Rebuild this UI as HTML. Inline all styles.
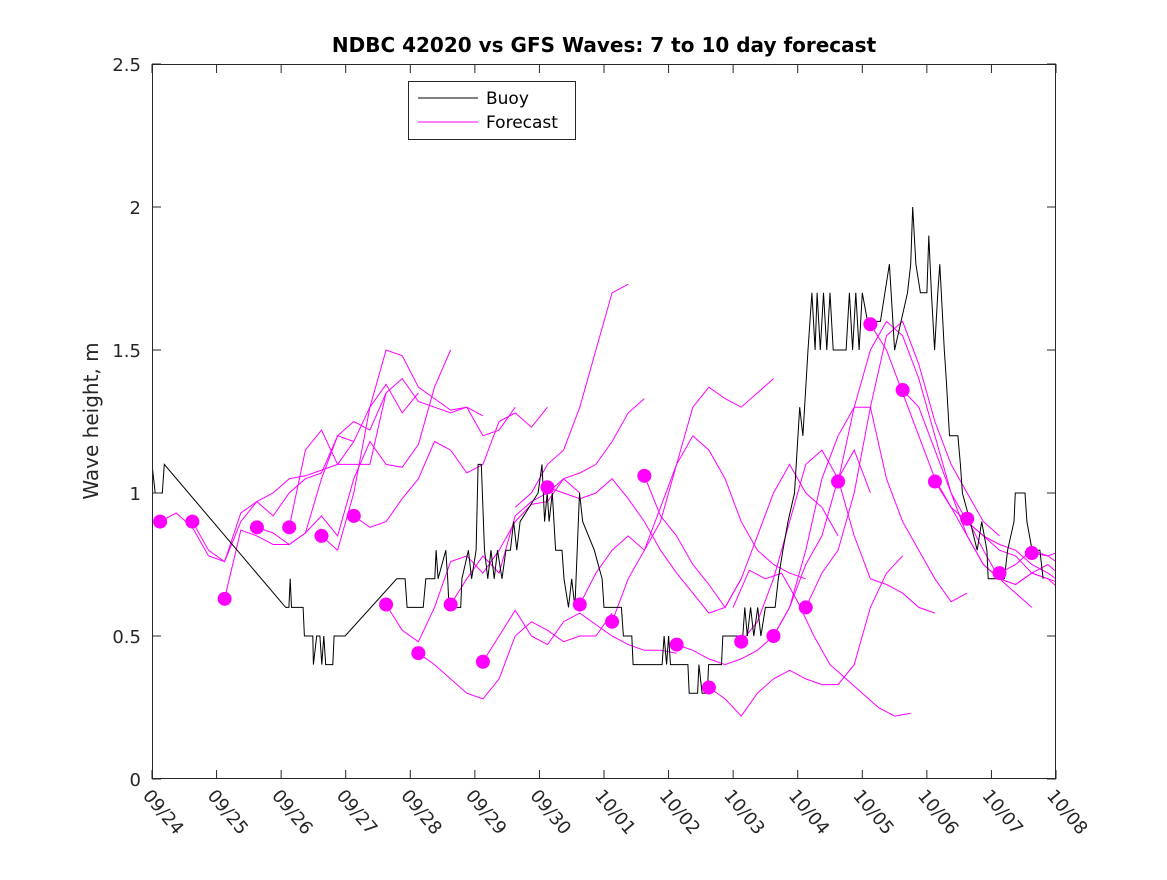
<!DOCTYPE html>
<html><head><meta charset="utf-8"><style>
body{margin:0;background:#fff;width:1167px;height:875px;overflow:hidden;font-family:"Liberation Sans","DejaVu Sans",sans-serif}
svg text{font-family:"DejaVu Sans","Liberation Sans",sans-serif}
</style></head><body>
<svg id="chart" width="1167" height="875" viewBox="0 0 1167 875" xmlns="http://www.w3.org/2000/svg">
<rect width="1167" height="875" fill="#fff"/>
<text x="604" y="52" text-anchor="middle" font-size="20" font-weight="bold" fill="#000">NDBC 42020 vs GFS Waves: 7 to 10 day forecast</text>
<text transform="translate(98,421) rotate(-90)" text-anchor="middle" font-size="20" fill="#262626">Wave height, m</text>
<g id="plot"></g>
<g id="axes"></g>
<g>
<rect x="408.5" y="81.5" width="167" height="58" fill="#fff" stroke="#262626" stroke-width="1"/>
<line x1="418" y1="98" x2="478" y2="98" stroke="#000" stroke-width="1"/>
<text x="486" y="104" font-size="17" fill="#000">Buoy</text>
<line x1="418" y1="122" x2="478" y2="122" stroke="#f0f" stroke-width="1"/>
<text x="486" y="128" font-size="17" fill="#000">Forecast</text>
</g>
</svg>
<script>
const xTickLabels=["09/24","09/25","09/26","09/27","09/28","09/29","09/30","10/01","10/02","10/03","10/04","10/05","10/06","10/07","10/08"];
const yTicks=[0,0.5,1,1.5,2,2.5];
const yTickLabels=["0","0.5","1","1.5","2","2.5"];
const buoyDays=[0,0.05,0.16,0.19,2.07,2.12,2.14,2.16,2.34,2.36,2.49,2.5,2.55,2.6,2.63,2.66,2.69,2.8,2.82,2.99,3.79,3.92,3.95,4.2,4.24,4.38,4.4,4.43,4.55,4.58,4.6,4.78,4.8,4.9,4.95,5.02,5.05,5.1,5.15,5.2,5.25,5.3,5.35,5.42,5.48,5.55,5.6,5.65,5.7,5.98,6.04,6.08,6.12,6.15,6.2,6.25,6.35,6.38,6.45,6.5,6.55,6.62,6.67,6.85,6.97,7.0,7.27,7.3,7.43,7.45,7.9,7.93,7.97,8.0,8.03,8.3,8.32,8.45,8.47,8.52,8.6,8.62,8.82,8.84,9.15,9.18,9.22,9.27,9.32,9.38,9.43,9.5,9.65,9.7,9.77,9.85,9.95,10.03,10.08,10.16,10.22,10.27,10.3,10.35,10.4,10.45,10.5,10.55,10.6,10.7,10.75,10.8,10.85,10.9,10.95,11.0,11.08,11.28,11.42,11.5,11.7,11.75,11.78,11.83,11.9,12.0,12.03,12.07,12.12,12.17,12.2,12.27,12.3,12.35,12.48,12.52,12.55,12.67,12.78,12.85,12.93,12.95,13.2,13.25,13.35,13.37,13.52,13.55,13.63,13.75,13.8];
const buoyValues=[1.1,1.0,1.0,1.1,0.6,0.6,0.7,0.6,0.6,0.5,0.5,0.4,0.5,0.5,0.4,0.5,0.4,0.4,0.5,0.5,0.7,0.7,0.6,0.6,0.7,0.7,0.8,0.7,0.8,0.7,0.6,0.6,0.7,0.8,0.7,0.8,1.1,1.1,0.8,0.7,0.8,0.7,0.8,0.7,0.8,0.8,0.9,0.8,0.9,1.0,1.1,0.9,1.0,0.9,1.0,0.8,0.8,0.7,0.6,0.7,0.6,1.0,0.9,0.8,0.7,0.6,0.6,0.5,0.5,0.4,0.4,0.5,0.4,0.5,0.4,0.4,0.3,0.3,0.4,0.3,0.3,0.4,0.4,0.5,0.5,0.6,0.5,0.6,0.5,0.6,0.5,0.6,0.6,0.7,0.8,0.9,1.0,1.3,1.2,1.5,1.7,1.5,1.7,1.5,1.7,1.5,1.7,1.5,1.5,1.5,1.5,1.7,1.5,1.7,1.5,1.7,1.6,1.6,1.8,1.5,1.7,1.8,2.0,1.8,1.7,1.7,1.9,1.7,1.5,1.7,1.8,1.5,1.4,1.2,1.2,1.1,1.0,0.9,0.8,0.9,0.8,0.7,0.7,0.8,0.9,1.0,1.0,0.9,0.8,0.8,0.7];
const dotDays=[0.125,0.625,1.125,1.625,2.125,2.625,3.125,3.625,4.125,4.625,5.125,6.125,6.625,7.125,7.625,8.125,8.625,9.125,9.625,10.125,10.625,11.125,11.625,12.125,12.625,13.125,13.625];
const dotValues=[0.9,0.9,0.63,0.88,0.88,0.85,0.92,0.61,0.44,0.61,0.41,1.02,0.61,0.55,1.06,0.47,0.32,0.48,0.5,0.6,1.04,1.59,1.36,1.04,0.91,0.72,0.79];
const forecastStart=[0.125,0.625,1.125,1.625,2.125,2.625,3.125,3.625,4.125,4.625,5.125,5.625,6.125,6.625,7.125,7.625,8.125,8.625,9.125,9.625,10.125,10.625,11.125,11.625,12.125,12.625,13.125,13.625,9.0];
const fc0=[0.9,0.93,0.88,0.78,0.76,0.93,0.97,1.0,1.05,1.06,1.08,1.1,1.18];
const fc1=[0.9,0.8,0.76,0.9,0.97,0.92,1.0,1.05,1.07,1.2,1.25,1.22,1.35];
const fc2=[0.63,0.87,0.85,0.82,0.82,0.86,1.05,1.2,1.18,1.3,1.38,1.28,1.35];
const fc3=[0.88,0.86,0.82,0.86,0.92,0.85,1.05,1.18,1.1,1.09,1.17,1.37,1.5];
const fc4=[0.88,1.15,1.22,1.1,1.1,1.1,1.35,1.4,1.32,1.3,1.28,1.3,1.27];
const fc5=[0.85,0.8,1.0,1.3,1.5,1.48,1.37,1.33,1.29,1.3,1.2,1.22,1.3];
const fc6=[0.92,0.88,0.9,0.98,1.05,1.18,1.15,1.07,1.1,1.25,1.28,1.23,1.3];
const fc7=[0.61,0.52,0.48,0.6,0.76,0.78,0.72,0.8,0.9,0.96,0.97,1.05,1.0];
const fc8=[0.44,0.4,0.35,0.3,0.28,0.35,0.5,0.55,0.52,0.48,0.5,0.5,0.58];
const fc9=[0.61,0.7,0.78,0.72,0.92,0.97,1.0,1.05,1.07,1.1,1.18,1.28,1.33];
const fc10=[0.41,0.5,0.59,0.5,0.47,0.55,0.58,0.54,0.5,0.47,0.45,0.45,0.44];
const fc11=[0.95,1.0,1.1,1.15,1.3,1.5,1.7,1.73];
const fc12=[1.02,1.0,0.98,1.0,1.05,0.98,0.9,0.8,0.72,0.65,0.58,0.6,0.7];
const fc13=[0.61,0.72,0.8,0.85,0.8,0.95,1.1,1.3,1.37,1.33,1.3,1.35,1.4];
const fc14=[0.55,0.7,0.8,0.9,1.1,1.2,1.15,1.05,0.9,0.8,0.75,0.72,0.7];
const fc15=[1.06,0.92,0.85,0.75,0.68,0.6,0.7,0.85,1.0,1.1,1.0,0.95,0.85];
const fc16=[0.47,0.45,0.42,0.4,0.42,0.45,0.5,0.6,0.75,0.85,1.05,1.15,1.0];
const fc17=[0.32,0.28,0.22,0.3,0.35,0.38,0.35,0.33,0.33,0.4,0.6,0.72,0.78];
const fc18=[0.48,0.55,0.7,0.9,1.1,1.15,1.05,0.85,0.7,0.68,0.65,0.6,0.58];
const fc19=[0.5,0.6,0.8,1.05,1.2,1.3,1.3,1.05,0.9,0.8,0.7,0.62,0.65];
const fc20=[0.6,0.72,0.8,1.0,1.3,1.55,1.6,1.45,1.25,1.1,1.0,0.9,0.85];
const fc21=[1.04,1.3,1.5,1.6,1.55,1.4,1.2,1.0,0.85,0.75,0.7,0.65,0.6];
const fc22=[1.59,1.5,1.35,1.2,1.05,0.95,0.9,0.85,0.82,0.8,0.75,0.72,0.68];
const fc23=[1.36,1.3,1.15,1.0,0.9,0.85,0.8,0.78,0.72,0.7,0.68,0.65,0.6];
const fc24=[1.04,0.95,0.85,0.75,0.7,0.68,0.72,0.7,0.65,0.6,0.6,0.58,0.6];
const fc25=[0.91,0.8,0.7,0.68,0.72,0.75,0.7,0.65,0.6,0.55,0.5];
const fc26=[0.72,0.75,0.8,0.78,0.74,0.7,0.75];
const fc27=[0.79,0.78,0.8,0.82];
const fc28=[0.6,0.73,0.7,0.72,0.62,0.5,0.4,0.35,0.3,0.25,0.22,0.23];
const forecasts=[fc0,fc1,fc2,fc3,fc4,fc5,fc6,fc7,fc8,fc9,fc10,fc11,fc12,fc13,fc14,fc15,fc16,fc17,fc18,fc19,fc20,fc21,fc22,fc23,fc24,fc25,fc26,fc27,fc28];
const forecastStep=0.25;

const L=152,R=1056,T=64,B=779,DAYS=14,YMAX=2.5;
const xs=d=>L+(R-L)*d/DAYS;
const ys=v=>B-(B-T)*v/YMAX;
const NS="http://www.w3.org/2000/svg";
const plot=document.getElementById('plot');
const axes=document.getElementById('axes');
function mk(tag,attrs,parent){const e=document.createElementNS(NS,tag);for(const k in attrs)e.setAttribute(k,attrs[k]);parent.appendChild(e);return e;}

const defs=mk('defs',{},plot);
const cp=mk('clipPath',{id:'clip'},defs);
mk('rect',{x:L,y:T,width:R-L,height:B-T},cp);
const g=mk('g',{'clip-path':'url(#clip)'},plot);

forecasts.forEach((f,i)=>{
  const pts=f.map((v,j)=>xs(forecastStart[i]+j*forecastStep).toFixed(1)+','+ys(v).toFixed(1)).join(' ');
  const pl=mk('polyline',{points:pts,fill:'none',stroke:'#f0f','stroke-width':1},g);
  
  
});
const bpts=buoyDays.map((d,i)=>xs(d).toFixed(1)+','+ys(buoyValues[i]).toFixed(1)).join(' ');
const bl=mk('polyline',{points:bpts,fill:'none',stroke:'#000','stroke-width':1},g);


dotDays.forEach((d,i)=>{
  const c=mk('circle',{cx:xs(d),cy:ys(dotValues[i]),r:7,fill:'#f0f'},g);
  
  
});

mk('rect',{x:L+0.5,y:T+0.5,width:R-L-1,height:B-T-1,fill:'none',stroke:'#262626','stroke-width':1},axes);
yTicks.forEach((v,i)=>{
  const y=ys(v);
  mk('line',{x1:L,y1:y,x2:L+9,y2:y,stroke:'#262626'},axes);
  mk('line',{x1:R,y1:y,x2:R-9,y2:y,stroke:'#262626'},axes);
  const t=mk('text',{x:L-11,y:y+7,'text-anchor':'end','font-size':18,fill:'#262626'},axes);
  t.textContent=yTickLabels[i];
  
  
});
xTickLabels.forEach((lab,i)=>{
  const x=xs(i);
  mk('line',{x1:x,y1:B,x2:x,y2:B-9,stroke:'#262626'},axes);
  mk('line',{x1:x,y1:T,x2:x,y2:T+9,stroke:'#262626'},axes);
  const t=mk('text',{x:0,y:0,transform:`translate(${x-10},${B+17}) rotate(50)`,'font-size':18,fill:'#262626'},axes);
  t.textContent=lab;
  
  
});
</script>
</body></html>
